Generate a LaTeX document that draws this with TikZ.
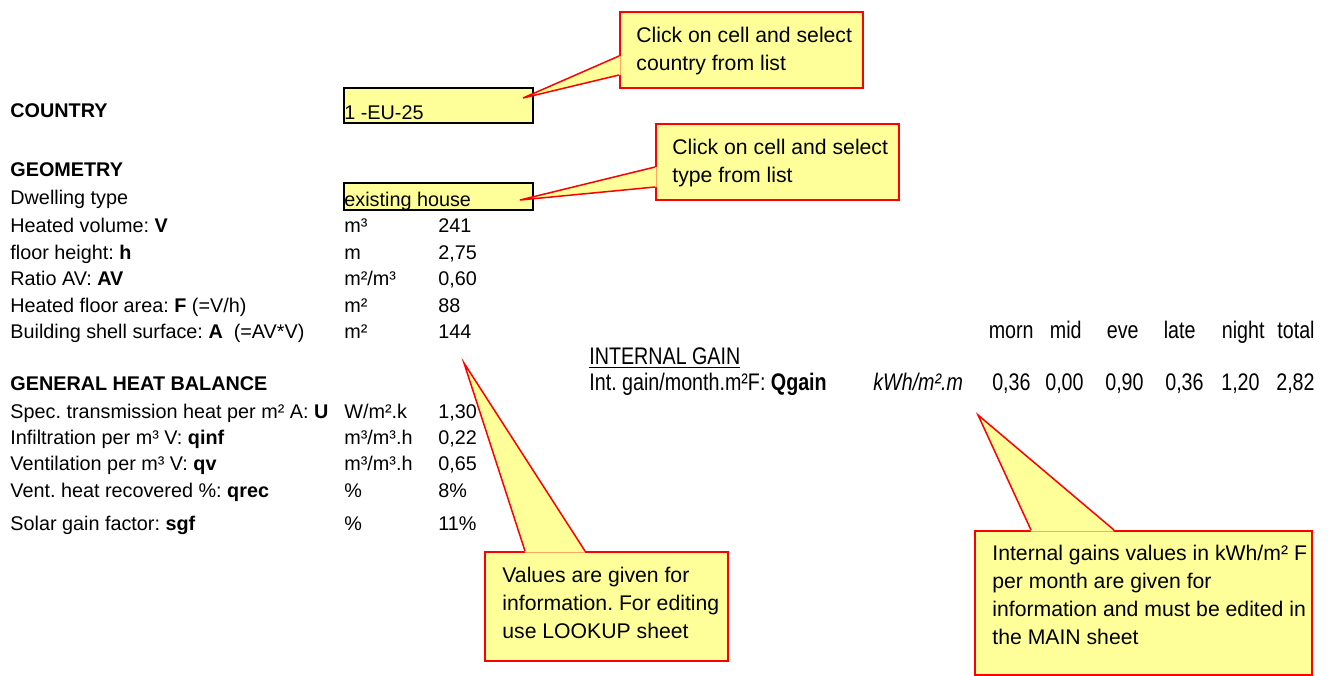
\documentclass[tikz,border=0pt]{standalone}
\usepackage{fontspec}
\setmainfont{Liberation Sans}
\newfontfamily\narrowfont[FakeStretch=0.82]{Liberation Sans}
\usetikzlibrary{calc}
\definecolor{noteyellow}{RGB}{255,255,153}
\definecolor{notered}{RGB}{255,0,0}
\frenchspacing

\begin{document}
\begin{tikzpicture}[
    x=0.5pt, y=-0.5pt,
    txt/.style={anchor=base west, inner sep=0pt, font=\fontsize{9.9}{12}\selectfont},
    head/.style={txt, font=\fontsize{9.9}{12}\selectfont\bfseries},
    gain/.style={anchor=base west, inner sep=0pt, font=\narrowfont\fontsize{12}{14}\selectfont},
    gainnum/.style={gain, anchor=base east},
    inbox/.style={rectangle, draw, line width=1pt, fill=noteyellow, anchor=north west, inner sep=0pt, minimum width=94.5pt},
    notebox/.style={rectangle, draw=notered, line width=0.75pt, fill=noteyellow, anchor=north west, inner sep=0pt},
    notetxt/.style={anchor=north west, inner sep=0pt, align=left, font=\fontsize{10.6}{14}\selectfont},
    pointer/.style={draw=notered, line width=0.75pt, line join=miter}
]

\fill[white] (0,0) rectangle (1334,675);

% Country
\node[head] (country) at (10,117) {COUNTRY};
\node[inbox, minimum height=17.5pt] (countrycell) at (343,87) {};
\node[txt] (countryval) at ($(countrycell.south west)+(1,-5)$) {1 -EU-25};

% Geometry
\node[head] (geometry) at (10,176) {GEOMETRY};
\node[txt] (dwelling) at (10,204) {Dwelling type};
\node[inbox, minimum height=13.5pt] (dwellcell) at (343,182) {};
\node[txt] (dwellval) at ($(dwellcell.south west)+(1,-5)$) {existing house};

\node[txt] (vol) at (10,232) {Heated volume: \textbf{V}};
\node[txt] (volu) at (344,232) {m³};
\node[txt] (volv) at (438,232) {241};
\node[txt] (hgt) at (10,259) {floor height: \textbf{h}};
\node[txt] (hgtu) at (344,259) {m};
\node[txt] (hgtv) at (438,259) {2,75};
\node[txt] (ratio) at (10,285) {Ratio AV: \textbf{AV}};
\node[txt] (ratiou) at (344,285) {m²/m³};
\node[txt] (ratiov) at (438,285) {0,60};
\node[txt] (floor) at (10,312) {Heated floor area: \textbf{F} (=V/h)};
\node[txt] (flooru) at (344,312) {m²};
\node[txt] (floorv) at (438,312) {88};
\node[txt] (shell) at (10,338) {Building shell surface: \textbf{A}\ \ (=AV*V)};
\node[txt] (shellu) at (344,338) {m²};
\node[txt] (shellv) at (438,338) {144};

% General heat balance
\node[head] (balance) at (10,390) {GENERAL HEAT BALANCE};
\node[txt] (trans) at (10,418) {Spec. transmission heat per m² A: \textbf{U}};
\node[txt] (transu) at (344,418) {W/m².k};
\node[txt] (transv) at (438,418) {1,30};
\node[txt] (infil) at (10,444) {Infiltration per m³ V: \textbf{qinf}};
\node[txt] (infilu) at (344,444) {m³/m³.h};
\node[txt] (infilv) at (438,444) {0,22};
\node[txt] (vent) at (10,470) {Ventilation per m³ V: \textbf{qv}};
\node[txt] (ventu) at (344,470) {m³/m³.h};
\node[txt] (ventv) at (438,470) {0,65};
\node[txt] (recov) at (10,497) {Vent. heat recovered \%: \textbf{qrec}};
\node[txt] (recovu) at (344,497) {\%};
\node[txt] (recovv) at (438,497) {8\%};
\node[txt] (solar) at (10,530) {Solar gain factor: \textbf{sgf}};
\node[txt] (solaru) at (344,530) {\%};
\node[txt] (solarv) at (438,530) {11\%};

% Internal gain
\node[gainnum] (hmorn) at (1034,338) {morn};
\node[gainnum] (hmid) at (1082,338) {mid};
\node[gainnum] (heve) at (1139,338) {eve};
\node[gainnum] (hlate) at (1196,338) {late};
\node[gainnum] (hnight) at (1265,338) {night};
\node[gainnum] (htotal) at (1315,338) {total};
\node[gain] (internal) at (589,364) {\underline{INTERNAL GAIN}};
\node[gain] (qgain) at (589,390) {Int. gain/month.m²F: \textbf{Qgain}};
\node[gain] (qgainu) at (873,390) {\itshape kWh/m².m};
\node[gainnum] (vmorn) at (1031,390) {0,36};
\node[gainnum] (vmid) at (1084,390) {0,00};
\node[gainnum] (veve) at (1144,390) {0,90};
\node[gainnum] (vlate) at (1204,390) {0,36};
\node[gainnum] (vnight) at (1260,390) {1,20};
\node[gainnum] (vtotal) at (1315,390) {2,82};

% Comment boxes
\node[notebox, minimum width=121.5pt, minimum height=38pt] (note1) at (619,11) {};
\node[notebox, minimum width=121.5pt, minimum height=38pt] (note2) at (655,123) {};
\node[notebox, minimum width=121.5pt, minimum height=54.5pt] (note3) at (484,551) {};
\node[notebox, minimum width=168.5pt, minimum height=72pt] (note4) at (974,530) {};

\coordinate (tip1) at (523,98);
\coordinate (tip2) at (520,200);
\coordinate (tip3) at (464,363);
\coordinate (tip4) at (978,415);

% Pointers
\fill[noteyellow] ($(note1.north west)+(1.5,45)$) -- (tip1) -- ($(note1.north west)+(1.5,64)$) -- cycle;
\draw[pointer] ($(note1.north west)+(0,45)$) -- (tip1) -- ($(note1.north west)+(0,64)$);
\fill[noteyellow] ($(note2.north west)+(1.5,44)$) -- (tip2) -- ($(note2.north west)+(1.5,64)$) -- cycle;
\draw[pointer] ($(note2.north west)+(0,44)$) -- (tip2) -- ($(note2.north west)+(0,64)$);
\fill[noteyellow] ($(note3.north west)+(41,1.5)$) -- (tip3) -- ($(note3.north west)+(101,1.5)$) -- cycle;
\draw[pointer] ($(note3.north west)+(41,0)$) -- (tip3) -- ($(note3.north west)+(101,0)$);
\fill[noteyellow] ($(note4.north west)+(57,1.5)$) -- (tip4) -- ($(note4.north west)+(140,1.5)$) -- cycle;
\draw[pointer] ($(note4.north west)+(57,0)$) -- (tip4) -- ($(note4.north west)+(140,0)$);

% Comment texts
\node[notetxt] (note1txt) at ($(note1.north west)+(17,16)$) {Click on cell and select\\country from list};
\node[notetxt] (note2txt) at ($(note2.north west)+(17,16)$) {Click on cell and select\\type from list};
\node[notetxt] (note3txt) at ($(note3.north west)+(18,16)$) {Values are given for\\information. For editing\\use LOOKUP sheet};
\node[notetxt] (note4txt) at ($(note4.north west)+(18,15)$) {Internal gains values in kWh/m² F\\per month are given for\\information and must be edited in\\the MAIN sheet};

\end{tikzpicture}
\end{document}
